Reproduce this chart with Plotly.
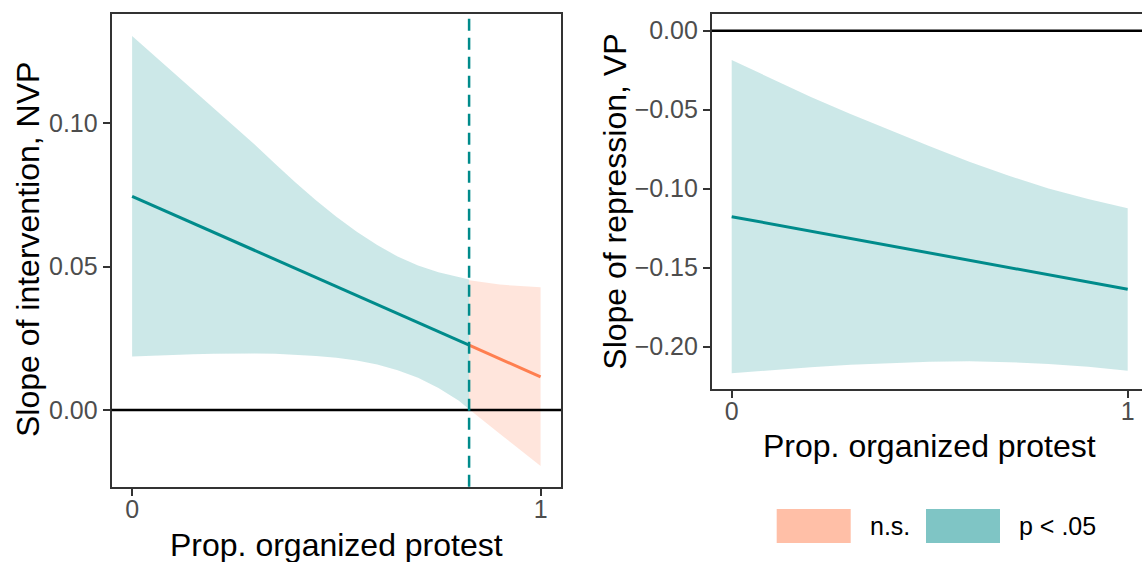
import plotly.graph_objects as go

# ---- Left panel: slope of intervention on NVP ----
x_sig = [0.0, 0.05, 0.1, 0.15, 0.2, 0.25, 0.3, 0.35, 0.4, 0.45, 0.5, 0.55,
         0.6, 0.65, 0.7, 0.75, 0.8, 0.825]
upper_sig = [0.1304, 0.1241, 0.1178, 0.1115, 0.1052, 0.0989, 0.0926, 0.0859, 0.0793,
             0.0731, 0.0674, 0.0621, 0.0575, 0.0535, 0.0504, 0.0480, 0.0462, 0.0455]
lower_sig = [0.0186, 0.0189, 0.0192, 0.0194, 0.0196, 0.0197, 0.0197, 0.0196, 0.0193,
             0.0188, 0.0182, 0.0172, 0.0158, 0.0138, 0.0112, 0.0076, 0.0032, 0.0002]
est_sig_x = [0.0, 0.825]
est_sig_y = [0.0745, 0.0226]

x_ns = [0.825, 0.9, 1.0]
upper_ns = [0.0452, 0.0437, 0.0428]
lower_ns = [0.0002, -0.0083, -0.0196]
est_ns_x = [0.825, 1.0]
est_ns_y = [0.0226, 0.0115]

cutoff = 0.825

# ---- Right panel: slope of repression on VP ----
x_vp = [0.0, 0.1, 0.2, 0.3, 0.4, 0.5, 0.6, 0.7, 0.8, 0.9, 1.0]
upper_vp = [-0.0185, -0.0305, -0.0420, -0.0527, -0.0630, -0.0732, -0.0830, -0.0918, -0.0999, -0.1065, -0.1124]
lower_vp = [-0.2168, -0.2148, -0.2130, -0.2115, -0.2104, -0.2096, -0.2092, -0.2098, -0.2110, -0.2128, -0.2152]
est_vp_x = [0.0, 1.0]
est_vp_y = [-0.1177, -0.1637]

# ---- Tick labels ----
x_tickvals = [0, 1]
x_ticktext = ["0", "1"]
left_y_tickvals = [0.0, 0.05, 0.10]
left_y_ticktext = ["0.00", "0.05", "0.10"]
right_y_tickvals = [0.0, -0.05, -0.10, -0.15, -0.20]
right_y_ticktext = ["0.00", "\u22120.05", "\u22120.10", "\u22120.15", "\u22120.20"]

legend_labels = ["n.s.", "p < .05"]

TEAL = "#008B8B"
CORAL = "#FF7F50"
TEAL_BAND = "rgba(0,139,139,0.2)"
CORAL_BAND = "rgba(255,127,80,0.2)"
TEAL_KEY = "rgba(0,139,139,0.5)"
CORAL_KEY = "rgba(255,127,80,0.5)"
FONT = "Liberation Sans, Arial, Helvetica, sans-serif"
W, H = 1142, 562

fig = go.Figure()


def band(xs, lo, hi, color, xa, ya):
    fig.add_trace(go.Scatter(
        x=list(xs) + list(xs)[::-1],
        y=list(hi) + list(lo)[::-1],
        fill="toself", fillcolor=color, mode="lines",
        line=dict(width=0, color=color), hoverinfo="skip",
        showlegend=False, xaxis=xa, yaxis=ya))


def est(xs, ys, color, xa, ya):
    fig.add_trace(go.Scatter(
        x=xs, y=ys, mode="lines", line=dict(color=color, width=3),
        showlegend=False, xaxis=xa, yaxis=ya))


band(x_sig, lower_sig, upper_sig, TEAL_BAND, "x", "y")
band(x_ns, lower_ns, upper_ns, CORAL_BAND, "x", "y")
est(est_sig_x, est_sig_y, TEAL, "x", "y")
est(est_ns_x, est_ns_y, CORAL, "x", "y")

band(x_vp, lower_vp, upper_vp, TEAL_BAND, "x2", "y2")
est(est_vp_x, est_vp_y, TEAL, "x2", "y2")

# reference lines
fig.add_shape(type="line", xref="x domain", yref="y", x0=0, x1=1, y0=0, y1=0,
              line=dict(color="black", width=2.5))
fig.add_shape(type="line", xref="x2 domain", yref="y2", x0=0, x1=1, y0=0, y1=0,
              line=dict(color="black", width=2.5))
fig.add_shape(type="line", xref="x", yref="y domain", x0=cutoff, x1=cutoff, y0=0, y1=1,
              line=dict(color=TEAL, width=2.5, dash="12px,7px"))

axis_common = dict(
    showgrid=False, zeroline=False, showline=True, linecolor="#333333", linewidth=2,
    ticks="outside", ticklen=7, tickwidth=2, tickcolor="#333333",
    tickfont=dict(family=FONT, size=25, color="#4D4D4D"),
)

fig.update_layout(
    width=W, height=H,
    margin=dict(l=0, r=0, t=0, b=0),
    paper_bgcolor="white", plot_bgcolor="white",
    showlegend=False,
    xaxis=dict(domain=[111.7 / W, 561 / W], range=[-0.05, 1.05], mirror=True,
               tickvals=x_tickvals, ticktext=x_ticktext, anchor="y",
               ticklabelstandoff=-8, **axis_common),
    yaxis=dict(domain=[(H - 486.7) / H, (H - 14) / H], range=[-0.0268, 0.1381], mirror=True,
               tickvals=left_y_tickvals, ticktext=left_y_ticktext, anchor="x", **axis_common),
    xaxis2=dict(domain=[711.9 / W, 1.0], range=[-0.05, 1.0361], mirror=True,
                tickvals=x_tickvals, ticktext=x_ticktext, anchor="y2",
                ticklabelstandoff=-8, **axis_common),
    yaxis2=dict(domain=[(H - 389.3) / H, (H - 14) / H], range=[-0.227, 0.0106], mirror=False,
                tickvals=right_y_tickvals, ticktext=right_y_ticktext, anchor="x2", **axis_common),
)

title_font = dict(family=FONT, size=32, color="black")
annotations = [
    dict(text="Prop. organized protest", x=336.4 / W, y=(H - 545) / H),
    dict(text="Prop. organized protest", x=929.7 / W, y=(H - 446) / H),
    dict(text="Slope of intervention, NVP", x=28 / W, y=(H - 250) / H, textangle=-90),
    dict(text="Slope of repression, VP", x=615 / W, y=(H - 201.7) / H, textangle=-90),
]
for a in annotations:
    fig.add_annotation(xref="paper", yref="paper", xanchor="center", yanchor="middle",
                       showarrow=False, font=title_font, **a)

# legend drawn as keys + labels below the right panel
key_colors = [CORAL_KEY, TEAL_KEY]
key_x0 = [776.7, 926.0]
key_w = 74
key_top, key_bot = 509, 543
text_x = [867.7, 1016.7]
for lab, col, kx, tx in zip(legend_labels, key_colors, key_x0, text_x):
    fig.add_shape(type="rect", xref="paper", yref="paper",
                  x0=kx / W, x1=(kx + key_w) / W, y0=(H - key_bot) / H, y1=(H - key_top) / H,
                  fillcolor=col, line=dict(width=0))
    fig.add_annotation(xref="paper", yref="paper", x=tx / W, y=(H - 526) / H,
                       xanchor="left", yanchor="middle", showarrow=False, text=lab,
                       font=dict(family=FONT, size=25, color="black"))

fig.write_html("out.html")
